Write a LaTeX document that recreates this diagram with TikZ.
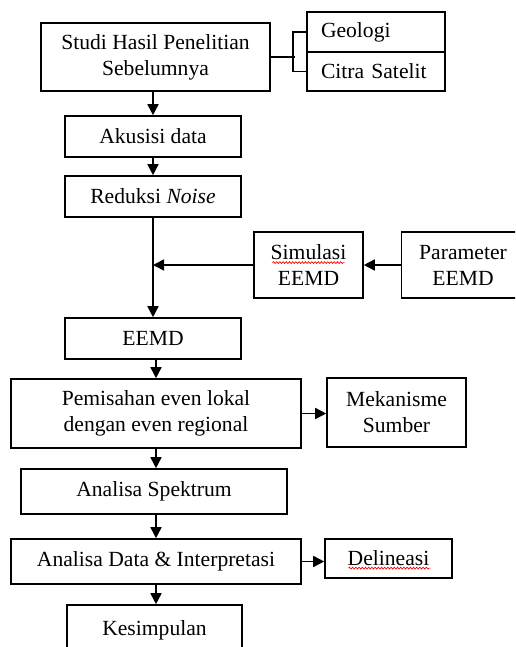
\documentclass[tikz,border=0pt]{standalone}
\usepackage{fontspec}
\setmainfont{Liberation Serif}
\usetikzlibrary{arrows.meta,decorations.pathmorphing}

\begin{document}
\begin{tikzpicture}[x=0.5pt, y=-0.5pt,
    box/.style={rectangle, draw, line width=0.8pt, align=center, inner sep=0pt, font=\fontsize{10.8}{13}\selectfont},
    sidebox/.style={box, align=left, text width=55pt, inner xsep=7pt, minimum width=69pt},
    link/.style={line width=0.8pt},
    arr/.style={link, -{Triangle[length=5.5pt, width=5.5pt]}},
    spell/.style={red, line width=0.35pt, decorate, decoration={snake, amplitude=0.45pt, segment length=1.6pt}}]

    % Page frame
    \useasboundingbox (0,0) rectangle (515,647);
    \clip (0,0) rectangle (515,647);

    % Main column
    \node[box, minimum width=114.5pt, minimum height=34pt] (studi) at (155.5,57) {Studi Hasil Penelitian\\Sebelumnya};
    \node[box, minimum width=88pt, minimum height=20.5pt] (akusisi) at (153,136.5) {Akusisi data};
    \node[box, minimum width=88pt, minimum height=20.5pt] (reduksi) at (153,196.5) {Reduksi \textit{Noise}};
    \node[box, minimum width=88pt, minimum height=20.5pt] (eemd) at (153,338.5) {EEMD};
    \node[box, minimum width=145pt, minimum height=34.5pt] (pemisahan) at (156,413.5) {Pemisahan even lokal\\dengan even regional};
    \node[box, minimum width=133pt, minimum height=22.5pt] (spektrum) at (154,491.5) {Analisa Spektrum};
    \node[box, minimum width=145pt, minimum height=22.5pt] (data) at (156,561.5) {Analisa Data \& Interpretasi};
    \node[box, minimum width=87.5pt, minimum height=25pt] (kesimpulan) at (154.5,630) {Kesimpulan};

    % Side boxes
    \node[sidebox, minimum height=20pt] (geologi) at (376,32) {Geologi};
    \node[sidebox, minimum height=19.5pt] (citra) at (376,71.5) {Citra Satelit};
    \node[box, minimum width=54.5pt, minimum height=33pt] (simulasi) at (308.5,265) {Simulasi\\EEMD};
    \node[box, minimum width=61.5pt, minimum height=33pt] (parameter) at (463,265) {Parameter\\EEMD};
    \node[box, minimum width=69.5pt, minimum height=34.5pt] (mekanisme) at (396.5,412.5) {Mekanisme\\Sumber};
    \node[box, minimum width=63.5pt, minimum height=19.5pt] (delineasi) at (388.5,558.5) {Delineasi};

    % Spell check marks
    \draw[spell] ([xshift=-18pt, yshift=1.2pt]simulasi.center) -- ([xshift=18pt, yshift=1.2pt]simulasi.center);
    \draw[spell] ([xshift=-20pt, yshift=-4.8pt]delineasi.center) -- ([xshift=21pt, yshift=-4.8pt]delineasi.center);

    % Bracket to the references
    \coordinate (brk) at (293,57);
    \draw[link] (studi.east) -- ([xshift=1pt]brk);
    \draw[link] (geologi.west) -| (brk) |- (citra.west);

    % Vertical flow
    \draw[arr] (studi.south -| akusisi) -- (akusisi.north);
    \foreach \a/\b in {akusisi/reduksi, reduksi/eemd}
        \draw[arr] (\a.south) -- (\b.north);
    \draw[arr] (eemd.south -| pemisahan) -- (pemisahan.north);
    \draw[arr] (pemisahan.south) -- (pemisahan.south |- spektrum.north);
    \draw[arr] (data.north |- spektrum.south) -- (data.north);
    \draw[arr] (data.south) -- (data.south |- kesimpulan.north);

    % Side inputs and outputs
    \coordinate (join) at (reduksi.south |- simulasi.west);
    \draw[arr] (simulasi.west) -- (join);
    \draw[arr] (parameter) -- (simulasi);
    \draw[arr] (pemisahan.east) -- (pemisahan.east -| mekanisme.west);
    \draw[arr] (data.east) -- (data.east -| delineasi.west);
\end{tikzpicture}
\end{document}
